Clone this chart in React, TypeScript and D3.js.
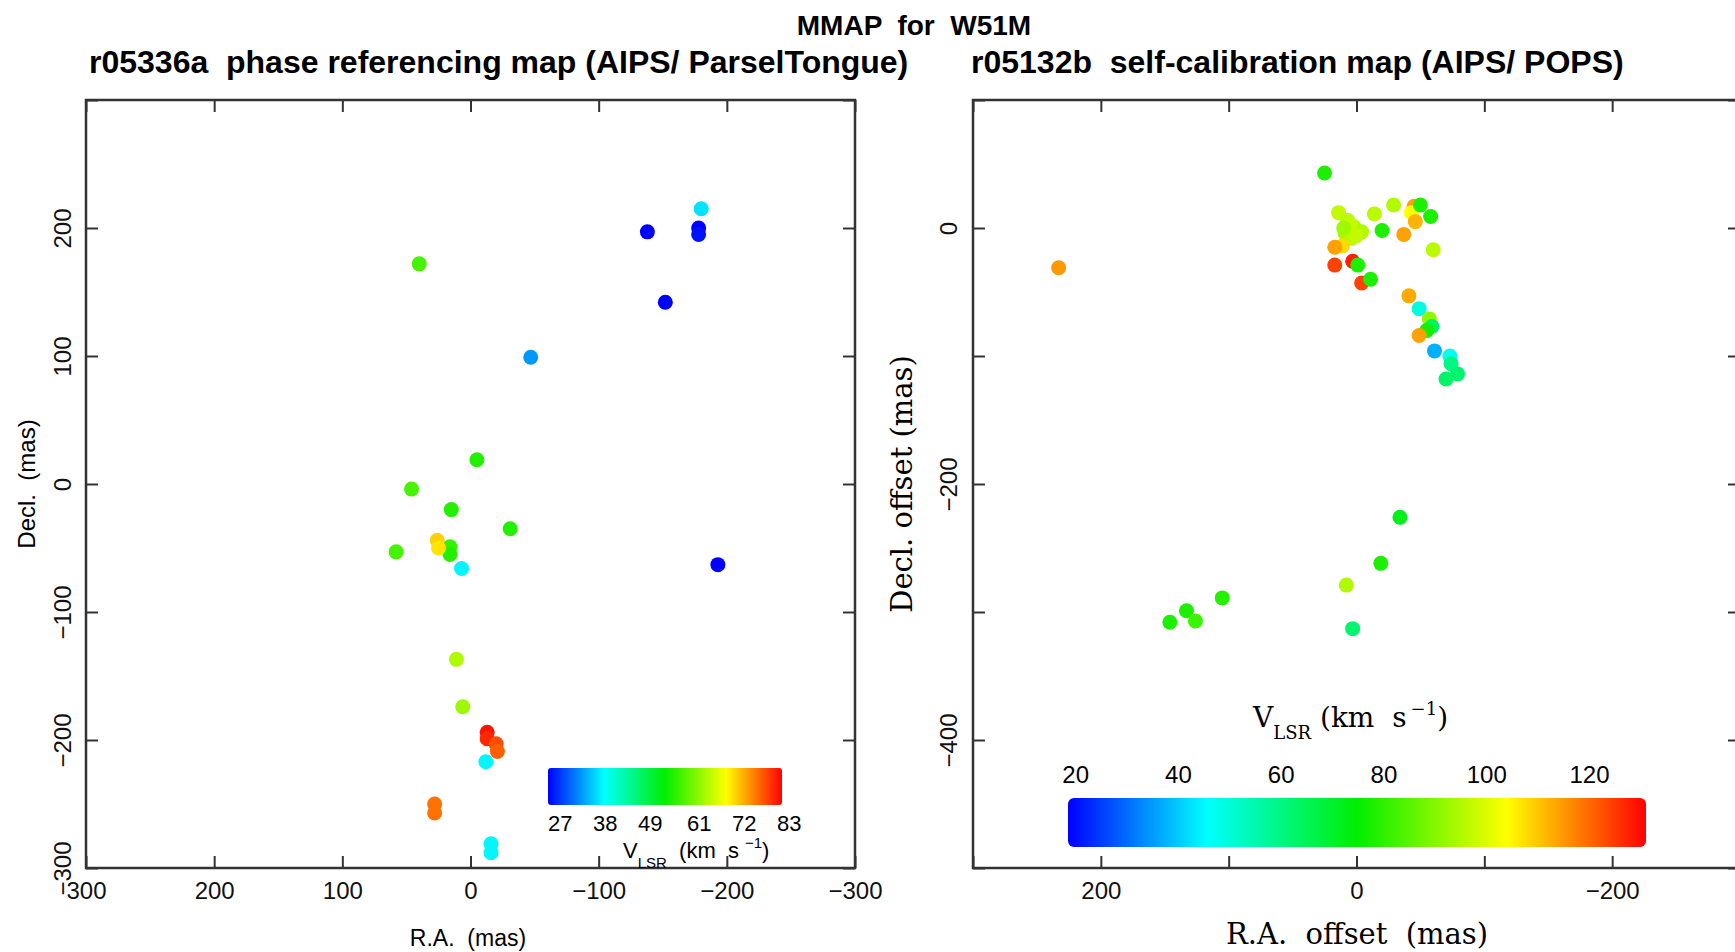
import React, { useEffect, useRef } from "react";
import * as d3 from "d3";

// r05336a phase referencing map: R.A. / Decl. offsets (mas), V_LSR (km/s)
const phaseRA = [-180, -138, -178, -178, 40, -152, -47, -5, 46, 15, -31, 16, 16, 26, 25, 58, 7, -193, 11, 6, -13, -13, -20, -21, -12, 28, 28, -16, -16];
const phaseDec = [215, 197, 200, 195, 172, 142, 99, 19, -4, -20, -35, -49, -55, -44, -50, -53, -66, -63, -137, -174, -194, -199, -203, -209, -217, -250, -257, -281, -288];
const phaseVel = [39, 27, 27, 28, 59, 27, 35, 57, 59, 57, 57, 58, 57, 72, 71, 59, 40, 27, 65, 64, 82, 81, 79, 78, 40, 77, 77, 40, 40];

// r05132b self-calibration map
const selfRA = [25, 233, 14, 7, 2, 9, -4, 4, 5, 10, 0, 11, 17, -14, -29, -20, -45, -43, -50, -46, -58, -37, -60, 3, 17, -1, -4, -11, -41, -49, -57, -59, -55, -49, -61, -73, -74, -79, -70, -34, -19, 8, 105, 133, 126, 146, 3];
const selfDec = [43, -31, 12, 6, 1, -4, -3, -8, 3, 0, -6, -14, -15, 11, 18, -2, 17, 12, 18, 5, 9, -5, -17, -26, -29, -29, -43, -40, -53, -63, -71, -77, -80, -84, -96, -100, -106, -114, -118, -226, -262, -279, -289, -299, -307, -308, -313];
const selfVel = [78, 115, 97, 96, 95, 94, 95, 96, 97, 93, 97, 108, 114, 96, 95, 78, 114, 104, 78, 112, 78, 114, 96, 128, 124, 78, 124, 78, 113, 49, 91, 64, 77, 114, 37, 47, 60, 62, 63, 72, 78, 95, 79, 78, 82, 78, 62];

const leftXTicks = [300, 200, 100, 0, -100, -200, -300];
const leftYTicks = [-300, -200, -100, 0, 100, 200, 300];
const leftYLabels = [-300, -200, -100, 0, 100, 200];
const rightXTicks = [300, 200, 100, 0, -100, -200, -300];
const rightXLabels = [200, 0, -200];
const rightYTicks = [100, 0, -100, -200, -300, -400, -500];
const rightYLabels = [0, -200, -400];

const leftBarLabels = [27, 38, 49, 61, 72, 83];
const rightBarLabels = [20, 40, 60, 80, 100, 120];

const rampStops = [0, 0.24, 0.5, 0.76, 1];
const rampColors = ["#0000ff", "#00ffff", "#00ee00", "#ffff00", "#ff0000"];

const SANS = "'Liberation Sans', Arial, Helvetica, sans-serif";
const SERIF = "'DejaVu Serif', serif";

const App = () => {
  const ref = useRef(null);

  useEffect(() => {
    const svg = d3.select(ref.current);
    svg.selectAll("*").remove();

    const fmt = d3.format("d");

    const ramp = (lo, hi) =>
      d3.scaleLinear()
        .domain(rampStops.map((f) => lo + f * (hi - lo)))
        .range(rampColors)
        .clamp(true);

    const defs = svg.append("defs");
    ["barL", "barR"].forEach((id) => {
      const gr = defs.append("linearGradient").attr("id", id).attr("x1", "0%").attr("x2", "100%");
      rampStops.forEach((f, i) => gr.append("stop").attr("offset", f).attr("stop-color", rampColors[i]));
    });

    // === titles ===
    svg.append("text")
      .attr("x", 914).attr("y", 35)
      .attr("text-anchor", "middle")
      .attr("font-family", SANS).attr("font-weight", "bold").attr("font-size", 28)
      .style("white-space", "pre")
      .text("MMAP  for  W51M");

    svg.append("text")
      .attr("x", 89).attr("y", 73)
      .attr("font-family", SANS).attr("font-weight", "bold").attr("font-size", 32)
      .style("white-space", "pre")
      .text("r05336a  phase referencing map (AIPS/ ParselTongue)");

    svg.append("text")
      .attr("x", 971).attr("y", 73)
      .attr("font-family", SANS).attr("font-weight", "bold").attr("font-size", 32)
      .style("white-space", "pre")
      .text("r05132b  self-calibration map (AIPS/ POPS)");

    const drawPanel = (o) => {
      const { x, y } = o;
      const g = svg.append("g");
      const [x0, x1] = x.range();
      const [y0, y1] = y.range();

      // points
      const col = ramp(o.vlo, o.vhi);
      g.append("g").selectAll("circle")
        .data(o.ra.map((r, i) => ({ r, d: o.dec[i], v: o.vel[i] })))
        .join("circle")
        .attr("cx", (d) => x(d.r))
        .attr("cy", (d) => y(d.d))
        .attr("r", 7.5)
        .attr("fill", (d) => col(d.v));

      const styleAxis = (a) => {
        a.select(".domain").remove();
        a.selectAll("line").attr("stroke", "#333").attr("stroke-width", 2);
        a.attr("font-family", SANS).attr("font-size", 24);
        a.selectAll("text").attr("fill", "#111");
      };

      const bottom = g.append("g")
        .attr("transform", `translate(0,${y0})`)
        .call(d3.axisBottom(x).tickValues(o.xTicks).tickSizeInner(-12).tickSizeOuter(0)
          .tickFormat((d) => (o.xLabels.includes(d) ? fmt(d) : "")));
      styleAxis(bottom);
      bottom.selectAll("text").attr("y", 31).attr("dy", null);

      const top = g.append("g")
        .attr("transform", `translate(0,${y1})`)
        .call(d3.axisTop(x).tickValues(o.xTicks).tickSizeInner(-12).tickSizeOuter(0).tickFormat(() => ""));
      styleAxis(top);

      const left = g.append("g")
        .attr("transform", `translate(${x0},0)`)
        .call(d3.axisLeft(y).tickValues(o.yTicks).tickSizeInner(-12).tickSizeOuter(0)
          .tickFormat((d) => (o.yLabels.includes(d) ? fmt(d) : "")));
      styleAxis(left);
      left.selectAll("text")
        .attr("x", null).attr("dy", null)
        .attr("text-anchor", "middle")
        .attr("transform", `translate(${-o.yLabelGap},0) rotate(-90)`);

      const right = g.append("g")
        .attr("transform", `translate(${x1},0)`)
        .call(d3.axisRight(y).tickValues(o.yTicks).tickSizeInner(-12).tickSizeOuter(0).tickFormat(() => ""));
      styleAxis(right);

      g.append("rect")
        .attr("x", x0).attr("y", y1)
        .attr("width", x1 - x0).attr("height", y0 - y1)
        .attr("fill", "none").attr("stroke", "#333").attr("stroke-width", 2.5);
    };

    // === left panel ===
    const xL = d3.scaleLinear().domain([300, -300]).range([86, 855]);
    const yL = d3.scaleLinear().domain([-300, 300]).range([868, 100]);
    drawPanel({
      x: xL, y: yL, ra: phaseRA, dec: phaseDec, vel: phaseVel, vlo: 27, vhi: 83,
      xTicks: leftXTicks, xLabels: leftXTicks, yTicks: leftYTicks, yLabels: leftYLabels, yLabelGap: 15,
    });

    svg.append("text")
      .attr("x", 468).attr("y", 946)
      .attr("text-anchor", "middle")
      .attr("font-family", SANS).attr("font-size", 23)
      .style("white-space", "pre")
      .text("R.A.  (mas)");

    svg.append("text")
      .attr("transform", "translate(35,484) rotate(-90)")
      .attr("text-anchor", "middle")
      .attr("font-family", SANS).attr("font-size", 24)
      .style("white-space", "pre")
      .text("Decl.  (mas)");

    // left colour bar
    svg.append("rect")
      .attr("x", 548).attr("y", 768).attr("width", 234).attr("height", 37)
      .attr("rx", 3).attr("fill", "url(#barL)");

    const lblL = d3.scaleLinear().domain([27, 83]).range([548, 777]);
    svg.append("g")
      .attr("font-family", SANS).attr("font-size", 22)
      .selectAll("text")
      .data(leftBarLabels)
      .join("text")
      .attr("x", (d) => lblL(d))
      .attr("y", 831)
      .text((d) => d);

    const vl = svg.append("text")
      .attr("x", 623).attr("y", 858)
      .attr("font-family", SANS).attr("font-size", 22)
      .style("white-space", "pre");
    vl.append("tspan").text("V");
    vl.append("tspan").attr("font-size", 15).attr("dy", 10).text("LSR");
    vl.append("tspan").attr("dy", -10).text("  (km  s");
    vl.append("tspan").attr("font-size", 15).attr("dx", 6).attr("dy", -10).text("−1");
    vl.append("tspan").attr("dy", 10).text(")");

    // === right panel ===
    const xR = d3.scaleLinear().domain([300, -300]).range([973, 1740]);
    const yR = d3.scaleLinear().domain([-500, 100]).range([868, 100]);
    drawPanel({
      x: xR, y: yR, ra: selfRA, dec: selfDec, vel: selfVel, vlo: 18.5, vhi: 131,
      xTicks: rightXTicks, xLabels: rightXLabels, yTicks: rightYTicks, yLabels: rightYLabels, yLabelGap: 16,
    });

    svg.append("text")
      .attr("x", 1357).attr("y", 944)
      .attr("text-anchor", "middle")
      .attr("font-family", SERIF).attr("font-size", 29)
      .style("white-space", "pre")
      .text("R.A.  offset  (mas)");

    svg.append("text")
      .attr("transform", "translate(912,484) rotate(-90)")
      .attr("text-anchor", "middle")
      .attr("font-family", SERIF).attr("font-size", 29)
      .style("white-space", "pre")
      .text("Decl. offset (mas)");

    // right colour bar
    const barR = d3.scaleLinear().domain([18.5, 131]).range([1068, 1646]);
    svg.append("rect")
      .attr("x", barR(18.5)).attr("y", 798)
      .attr("width", barR(131) - barR(18.5)).attr("height", 49)
      .attr("rx", 6).attr("fill", "url(#barR)");

    svg.append("g")
      .attr("font-family", SANS).attr("font-size", 24)
      .attr("text-anchor", "middle")
      .selectAll("text")
      .data(rightBarLabels)
      .join("text")
      .attr("x", (d) => barR(d))
      .attr("y", 783)
      .text((d) => d);

    const vr = svg.append("text")
      .attr("x", 1253).attr("y", 727)
      .attr("font-family", SERIF).attr("font-size", 28)
      .style("white-space", "pre");
    vr.append("tspan").text("V");
    vr.append("tspan").attr("font-size", 18).attr("dy", 12).text("LSR");
    vr.append("tspan").attr("dy", -12).text(" (km  s");
    vr.append("tspan").attr("font-size", 18).attr("dx", 4).attr("dy", -12).text("−1");
    vr.append("tspan").attr("dy", 12).text(")");
  }, []);

  return (
    <div style={{ position: "absolute", left: 0, top: 0, width: 1735, height: 952, overflow: "hidden", background: "#fff" }}>
      <svg ref={ref} width={1735} height={952} style={{ display: "block" }}></svg>
    </div>
  );
};

export default App;
